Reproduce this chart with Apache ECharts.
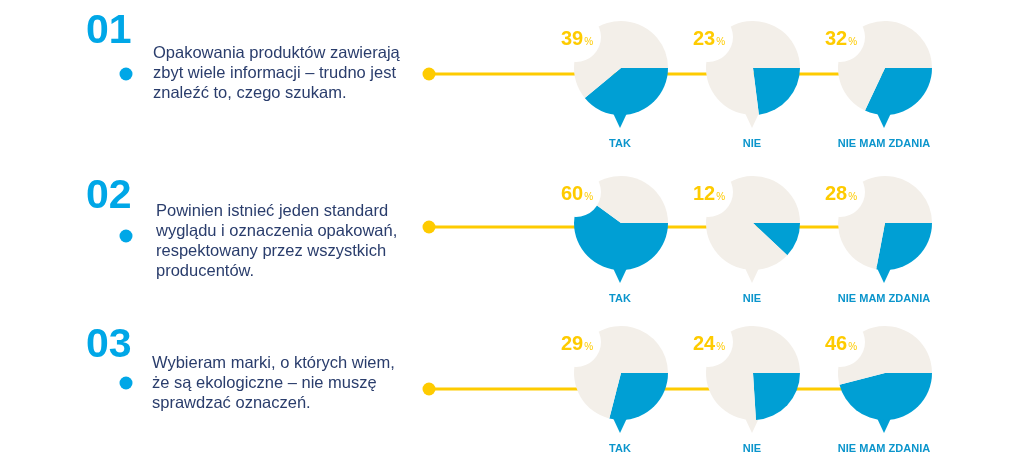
<!DOCTYPE html>
<html><head><meta charset="utf-8">
<script src="https://cdn.jsdelivr.net/npm/echarts@6/dist/echarts.min.js"></script>
<style>html,body{margin:0;padding:0;background:#fff}#c{width:1024px;height:470px}</style>
</head><body><div id="c"></div>
<script>
// ---- data ----
const rowNumbers = ['01', '02', '03'];
const statements = [
  'Opakowania produktów zawierają\nzbyt wiele informacji – trudno jest\nznaleźć to, czego szukam.',
  'Powinien istnieć jeden standard\nwyglądu i oznaczenia opakowań,\nrespektowany przez wszystkich\nproducentów.',
  'Wybieram marki, o których wiem,\nże są ekologiczne – nie muszę\nsprawdzać oznaczeń.'
];
const answers = ['TAK', 'NIE', 'NIE MAM ZDANIA'];
const values1 = [39, 23, 32];
const values2 = [60, 12, 28];
const values3 = [29, 24, 46];
const values = [values1, values2, values3];

// ---- layout / style ----
const BLUE = '#009fd4', BEIGE = '#f3efe9', YELLOW = '#fecb00', NAVY = '#2a3d6c', CYAN = '#00a7e7', LABEL = '#0b95cc';
const FONT = '"Liberation Sans", Arial, sans-serif';
const pieX = [621, 753, 885];
const pieY = [68, 223, 373];
const lineY = [74, 227, 389];
const R = 47;
const numY = [31.5, 197, 345.5];
const dotY = [74, 236, 383];
const textX = [153, 156, 152];
const textTop = [43, 201.5, 353.5];

const series = [];
const graphic = [];

values.forEach((row, r) => {
  // big number
  graphic.push({ type: 'text', z: 5, style: { text: rowNumbers[r], x: 86, y: numY[r], verticalAlign: 'middle',
    font: 'bold 41px ' + FONT, fill: CYAN } });
  // blue dot
  graphic.push({ type: 'circle', z: 5, shape: { cx: 126, cy: dotY[r], r: 6.5 }, style: { fill: CYAN } });
  // statement
  graphic.push({ type: 'text', z: 5, style: { text: statements[r], x: textX[r], y: textTop[r], verticalAlign: 'top',
    font: '16.5px ' + FONT, lineHeight: 20, fill: NAVY } });
  // yellow connector
  graphic.push({ type: 'circle', z: 1, shape: { cx: 429, cy: lineY[r], r: 6.5 }, style: { fill: YELLOW } });
  graphic.push({ type: 'line', z: 1, shape: { x1: 429, y1: lineY[r], x2: pieX[2], y2: lineY[r] }, style: { stroke: YELLOW, lineWidth: 3 } });

  row.forEach((v, c) => {
    const cx = pieX[c], cy = pieY[r];
    series.push({
      type: 'pie', center: [cx, cy], radius: R, startAngle: 0, clockwise: true,
      silent: true, animation: false, z: 2,
      label: { show: false }, labelLine: { show: false },
      emphasis: { disabled: true },
      itemStyle: { borderWidth: 0 },
      data: [
        { name: answers[c], value: v, itemStyle: { color: BLUE } },
        { name: 'reszta', value: 100 - v, itemStyle: { color: BEIGE } }
      ]
    });
    // pointer under pie
    graphic.push({ type: 'polygon', z: 1,
      shape: { points: [[cx - 9, cy + R - 4], [cx + 7, cy + R - 4], [cx - 1, cy + R + 13]] },
      style: { fill: v >= 25 ? BLUE : BEIGE } });
    // white notch + percent label
    graphic.push({ type: 'circle', z: 10, shape: { cx: cx - 45, cy: cy - 31, r: 25 }, style: { fill: '#fff' } });
    graphic.push({ type: 'text', z: 11, style: {
      text: '{n|' + v + '}{p|%}', x: cx - 44, y: cy - 30, align: 'center', verticalAlign: 'middle',
      rich: {
        n: { font: 'bold 20px ' + FONT, fill: YELLOW, lineHeight: 22, verticalAlign: 'bottom' },
        p: { font: '10px ' + FONT, fill: YELLOW, lineHeight: 22, verticalAlign: 'bottom', padding: [0, 0, 2, 1] }
      } } });
    // answer label
    graphic.push({ type: 'text', z: 5, style: { text: answers[c], x: cx - 1, y: cy + 76, align: 'center', verticalAlign: 'middle',
      font: 'bold 11px ' + FONT, fill: LABEL } });
  });
});

const chart = echarts.init(document.getElementById('c'), null, { renderer: 'canvas' });
chart.setOption({ backgroundColor: '#fff', animation: false, series: series, graphic: graphic });
</script></body></html>
